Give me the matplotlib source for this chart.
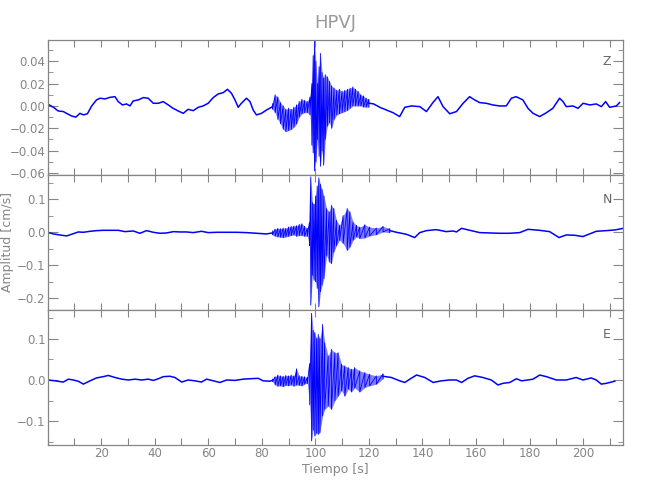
import numpy as np
import matplotlib
matplotlib.use('Agg')
import matplotlib.pyplot as plt
from matplotlib.ticker import MultipleLocator, FuncFormatter

plt.rcParams['font.family'] = ['Liberation Sans Narrow', 'DejaVu Sans']
plt.rcParams['axes.unicode_minus'] = True

GRAY = '#858585'
BLUE = '#0000ff'

## DATA

# Z component: slow trend of the trace
t_z = [0, 2.2, 4, 5.9, 7.1, 9, 10.6, 12.1, 13.4, 14.9, 16.5, 18.3, 19.6, 21.5, 23.3,
       25.2, 26.4, 28, 29.5, 30.8, 32, 33.9, 35.8, 37.6, 39.5, 41.4, 43.2, 45.1, 46.9,
       48.8, 50.7, 52.5, 54.4, 56.3, 58.1, 60, 61.9, 63.7, 65.6, 67.2, 68.7, 70, 71.2,
       72.4, 74.3, 75.6, 76.8, 78, 79.9, 81.8, 83.6, 84.9, 87, 89, 91, 93, 95, 97, 100,
       105, 110, 114.1, 117.8, 121.8, 124.1, 126.5, 129, 131.5, 133.4, 135.9, 139,
       141.5, 143.9, 145.8, 147.7, 150.2, 152.7, 155.2, 157.6, 159.5, 161.4, 163.8,
       166.3, 168.8, 171.3, 173.2, 175, 177.5, 179.4, 181.3, 183.8, 186.3, 188.7,
       191.2, 192.5, 193.7, 196.2, 198.1, 200, 202.5, 204.9, 206.8, 208.4, 209.9,
       212.4, 213.6]
z_trend = [0.0018, -0.0012, -0.0045, -0.005, -0.0066, -0.009, -0.010, -0.0066, -0.008,
           -0.007, 0, 0.0054, 0.0069, 0.0063, 0.0077, 0.0083, 0.0039, 0.0009, 0.0018, 0,
           0.0045, 0.0054, 0.0075, 0.0069, 0.0024, 0.0024, 0.0039, 0.0009, -0.0021,
           -0.0045, -0.0066, -0.003, -0.0042, -0.0012, 0, 0.0024, 0.0075, 0.0107, 0.0119,
           0.0149, 0.0113, 0.0054, -0.0012, 0.0024, 0.0069, 0.0039, -0.0036, -0.008,
           -0.0066, -0.0036, -0.0012, 0.0009, -0.006, -0.013, -0.012, -0.008, -0.001, 0,
           0, 0.003, 0.004, 0.009, 0.0054, 0.0018, -0.0012, -0.0036, -0.006, -0.0095,
           -0.0012, 0, -0.0006, -0.005, 0.003, 0.0083, -0.0006, -0.007, -0.005, 0.0024,
           0.0083, 0.0054, 0.003, 0.0024, 0.0009, 0, 0, 0.0069, 0.0083, 0.0054, -0.0021,
           -0.0066, -0.0095, -0.006, -0.0021, 0.0069, 0.0039, -0.0006, 0, -0.0021,
           0.0024, 0.0009, 0.0018, -0.0006, 0.0039, -0.0012, 0, 0.003]
# Z component: upper / lower extremes during the event
t_zb = [84, 85, 86, 87, 88, 89, 90, 91, 92, 93, 94, 95, 96, 97, 98, 98.7, 99.2, 99.7,
        100.2, 100.8, 101.4, 101.9, 102.5, 103.1, 103.7, 104.5, 105.3, 106.1, 107, 108,
        109, 110, 111, 112, 113, 114, 115, 116, 117, 118, 119, 120]
z_hi = [0.002, 0.010, 0.008, 0.003, 0.000, -0.003, -0.002, -0.003, -0.001, 0.001, 0.004,
        0.006, 0.005, 0.004, 0.008, 0.020, 0.045, 0.058, 0.040, 0.020, 0.035, 0.047,
        0.030, 0.025, 0.028, 0.026, 0.022, 0.018, 0.016, 0.014, 0.015, 0.013, 0.014,
        0.015, 0.016, 0.017, 0.015, 0.013, 0.010, 0.009, 0.007, 0.006]
z_lo = [-0.003, -0.006, -0.012, -0.016, -0.021, -0.023, -0.022, -0.021, -0.019, -0.016,
        -0.010, -0.007, -0.006, -0.006, -0.008, -0.035, -0.042, -0.058, -0.050, -0.030,
        -0.045, -0.054, -0.040, -0.053, -0.030, -0.018, -0.015, -0.020, -0.012, -0.008,
        -0.007, -0.006, -0.005, -0.004, -0.002, 0.000, 0.000, 0.000, 0.000, -0.001,
        -0.001, -0.001]

# N component
t_n = [0, 2.2, 5.3, 7.2, 9, 11.5, 13.4, 15.9, 18.3, 20.8, 23.9, 26.4, 28.9, 32, 34.5, 37,
       39.5, 42, 44.5, 47, 49.4, 51.9, 54.4, 57.5, 60, 63.1, 66.9, 70.6, 74.3, 78, 81.8,
       84.9, 90, 95, 100, 105, 110, 115, 120.3, 122.8, 125.3, 127.8, 130.3, 134, 137.1,
       139, 141.5, 145.2, 148.9, 151.4, 152.7, 154.6, 157.7, 161.4, 165.1, 168.8,
       172.6, 176.3, 179.4, 183.7, 187.5, 191, 193.7, 196.8, 199.9, 202.4, 204.9,
       208.6, 211.8, 215]
n_trend = [0, -0.005, -0.009, -0.011, -0.006, 0.001, 0, 0.003, 0.005, 0.006, 0.006, 0.006,
           0.002, 0.004, -0.003, 0.005, 0, -0.003, -0.002, 0.002, 0.001, 0.001, -0.001,
           0.003, -0.001, 0, 0, 0, -0.001, -0.003, -0.005, -0.001, 0.002, 0.008, 0,
           -0.005, 0.005, 0.002, 0.002, 0.003, 0.009, 0.005, 0, -0.006, -0.016, -0.001,
           0.005, 0.008, 0.002, 0.004, 0.001, 0.012, 0.006, -0.001, -0.002, -0.003,
           -0.003, -0.001, 0.009, 0.006, 0.002, -0.016, -0.008, -0.009, -0.013, -0.005,
           0.003, 0.005, 0.007, 0.012]
t_nb = [84, 85, 86, 87, 88, 89, 90, 91, 92, 93, 94, 95, 96, 97, 97.8, 98.3, 98.9, 99.5,
        100.1, 100.7, 101.3, 101.9, 102.5, 103.2, 104.2, 105.2, 106, 106.9, 107.9,
        109.1, 110.4, 111.9, 112.9, 114.1, 115.4, 116.6, 118.5, 120.3, 122.8, 125.3,
        127.8]
n_hi = [0.004, 0.010, 0.012, 0.011, 0.013, 0.012, 0.016, 0.018, 0.019, 0.020, 0.024,
        0.026, 0.018, 0.012, 0.030, 0.168, 0.090, 0.085, 0.110, 0.140, 0.165, 0.145,
        0.130, 0.110, 0.072, 0.062, 0.082, 0.072, 0.036, 0.021, 0.051, 0.072, 0.062,
        0.031, 0.021, 0.016, 0.023, 0.016, 0.013, 0.018, 0.011]
n_lo = [-0.008, -0.012, -0.014, -0.015, -0.016, -0.014, -0.012, -0.010, -0.008, -0.012,
        -0.010, -0.010, -0.012, -0.012, -0.040, -0.221, -0.130, -0.145, -0.150, -0.170,
        -0.226, -0.180, -0.160, -0.140, -0.070, -0.090, -0.095, -0.060, -0.040, -0.024,
        -0.034, -0.055, -0.045, -0.024, -0.014, -0.019, -0.017, -0.011, -0.007, 0.001,
        -0.001]

# E component
t_e = [0, 2.8, 5.9, 7.8, 9.6, 11.5, 13.4, 15.9, 18.3, 20.8, 22.7, 25.2, 27.7, 30.2, 32.7,
       35.1, 37.6, 39.5, 41.4, 43.2, 45.7, 47.6, 50.1, 52.5, 55, 57.5, 59.4, 61.9, 64.4,
       66.9, 70, 73.1, 75.6, 78.7, 80.5, 83, 84.9, 90, 95, 100, 105, 110, 115, 120.3,
       122.8, 125.3, 128.4, 131.5, 133.4, 135.3, 137.8, 140.9, 144, 147.1, 150.2,
       152.7, 154.6, 157, 159.5, 162.6, 165.7, 168.2, 170.1, 172.6, 175.1, 177, 179.4,
       181.3, 183.8, 186.3, 190, 193.7, 197.4, 199.9, 203, 204.9, 206.8, 208.7, 211.8]
e_trend = [0, -0.002, -0.005, 0.002, 0, -0.003, -0.010, -0.002, 0.005, 0.008, 0.011, 0.006,
           0.002, 0, 0.002, 0, 0.002, -0.001, 0.003, 0.008, 0.009, 0.006, -0.005, 0,
           -0.002, -0.005, 0.002, -0.002, -0.006, 0, -0.001, 0.002, 0.003, 0.004, -0.002,
           -0.003, 0, -0.002, -0.002, 0, 0, 0, 0, 0, 0, 0.010, 0.006, -0.002, -0.006,
           0.002, 0.012, 0.006, -0.006, -0.002, 0, 0, -0.006, 0.004, 0.010, 0.006, 0,
           -0.012, -0.008, -0.006, 0.003, -0.002, 0, 0.002, 0.012, 0.008, 0, 0, 0.006, 0,
           0.005, 0, -0.010, -0.008, -0.003]
t_eb = [84, 85, 86, 87, 88, 89, 90, 91, 92, 93, 94, 95, 96, 97, 97.9, 98.6, 99.2, 99.8,
        100.5, 101.1, 101.7, 102.7, 103.5, 104.8, 106, 107.3, 108.5, 109.8, 111, 112.3,
        113.5, 114.7, 116.6, 118.5, 120.3, 122.8, 125.3]
e_hi = [0.002, 0.008, 0.012, 0.010, 0.009, 0.011, 0.010, 0.012, 0.010, 0.027, 0.010,
        0.009, 0.008, 0.006, 0.040, 0.161, 0.120, 0.114, 0.100, 0.110, 0.100, 0.134,
        0.090, 0.058, 0.074, 0.066, 0.066, 0.038, 0.034, 0.030, 0.026, 0.030, 0.022,
        0.018, 0.014, 0.010, 0.015]
e_lo = [-0.004, -0.012, -0.015, -0.014, -0.016, -0.013, -0.014, -0.012, -0.015, -0.012,
        -0.013, -0.014, -0.010, -0.008, -0.060, -0.147, -0.120, -0.135, -0.128, -0.131,
        -0.127, -0.087, -0.071, -0.063, -0.071, -0.050, -0.039, -0.026, -0.039, -0.022,
        -0.029, -0.019, -0.029, -0.018, -0.014, -0.010, 0.003]

panels = [
    ('Z', t_z, z_trend, t_zb, z_hi, z_lo, (-0.0615, 0.059), 0.02, 0.01, '{:.2f}'),
    ('N', t_n, n_trend, t_nb, n_hi, n_lo, (-0.2355, 0.1745), 0.1, 0.05, '{:.1f}'),
    ('E', t_e, e_trend, t_eb, e_hi, e_lo, (-0.157, 0.169), 0.1, 0.05, '{:.1f}'),
]

## FIGURE
fig = plt.figure(figsize=(6.5, 5), dpi=100)
fig.patch.set_facecolor('white')

left, width = 47.5 / 650, (623.3 - 47.5) / 650
edges = [40, 174.7, 310, 445]

for i, (name, t, trend, tb, hi, lo, ylim, major, minor, fmt) in enumerate(panels):
    bottom = 1 - edges[i + 1] / 500
    height = (edges[i + 1] - edges[i]) / 500
    ax = fig.add_axes([left, bottom, width, height])

    # quiet part of the trace, joined to the middle of the event band at both ends
    t = np.asarray(t, float)
    tr = np.asarray(trend, float)
    pre, post = t < tb[0], t > tb[-1]
    mid0 = (hi[0] + lo[0]) / 2
    mid1 = (hi[-1] + lo[-1]) / 2
    ax.plot(np.r_[t[pre], tb[0]], np.r_[tr[pre], mid0], color=BLUE, lw=1.1)
    ax.plot(np.r_[tb[-1], t[post]], np.r_[mid1, tr[post]], color=BLUE, lw=1.1)

    # event: filled band between extremes plus a zig-zag through them
    ax.fill_between(tb, lo, hi, color=BLUE, alpha=0.5, lw=0)
    xs = np.repeat(tb, 2)
    ys = np.column_stack([hi, lo]).ravel()
    ax.plot(xs, ys, color=BLUE, lw=0.6)

    ax.set_xlim(0, 215)
    ax.set_ylim(*ylim)
    ax.xaxis.set_major_locator(MultipleLocator(10))
    ax.yaxis.set_major_locator(MultipleLocator(major))
    ax.yaxis.set_minor_locator(MultipleLocator(minor))
    ax.yaxis.set_major_formatter(FuncFormatter(lambda v, p, f=fmt: f.format(v).replace('-', '\u2212')))
    ax.tick_params(axis='both', which='both', direction='in', colors=GRAY,
                   top=True, right=True, labelsize=8.5, pad=1.5)
    ax.tick_params(axis='y', which='major', length=7)
    ax.tick_params(axis='y', which='minor', length=3.5)
    ax.tick_params(axis='x', which='major', length=5)
    for s in ax.spines.values():
        s.set_color(GRAY)
        s.set_linewidth(0.9)

    if i < 2:
        ax.set_xticklabels([])
    else:
        ax.xaxis.set_major_formatter(FuncFormatter(
            lambda v, p: f'{v:.0f}' if v > 0 and round(v) % 20 == 0 else ''))
        ax.set_xlabel('Tiempo [s]', color=GRAY, fontsize=9, labelpad=2)

    ax.text(0.972, 0.84 if i == 0 else 0.82, name, transform=ax.transAxes,
            color='#666666', fontsize=9, ha='center', va='center')

    if i == 1:
        ax.set_ylabel('Amplitud [cm/s]', color=GRAY, fontsize=9)
        ax.yaxis.set_label_coords(-(47.5 - 14) / (623.3 - 47.5), 0.5)

fig.text(335.4 / 650, 1 - 23 / 500, 'HPVJ', color='#9a9a9a', fontsize=13,
         ha='center', va='center')

plt.savefig('out.png', dpi=100)
print('fertig')
